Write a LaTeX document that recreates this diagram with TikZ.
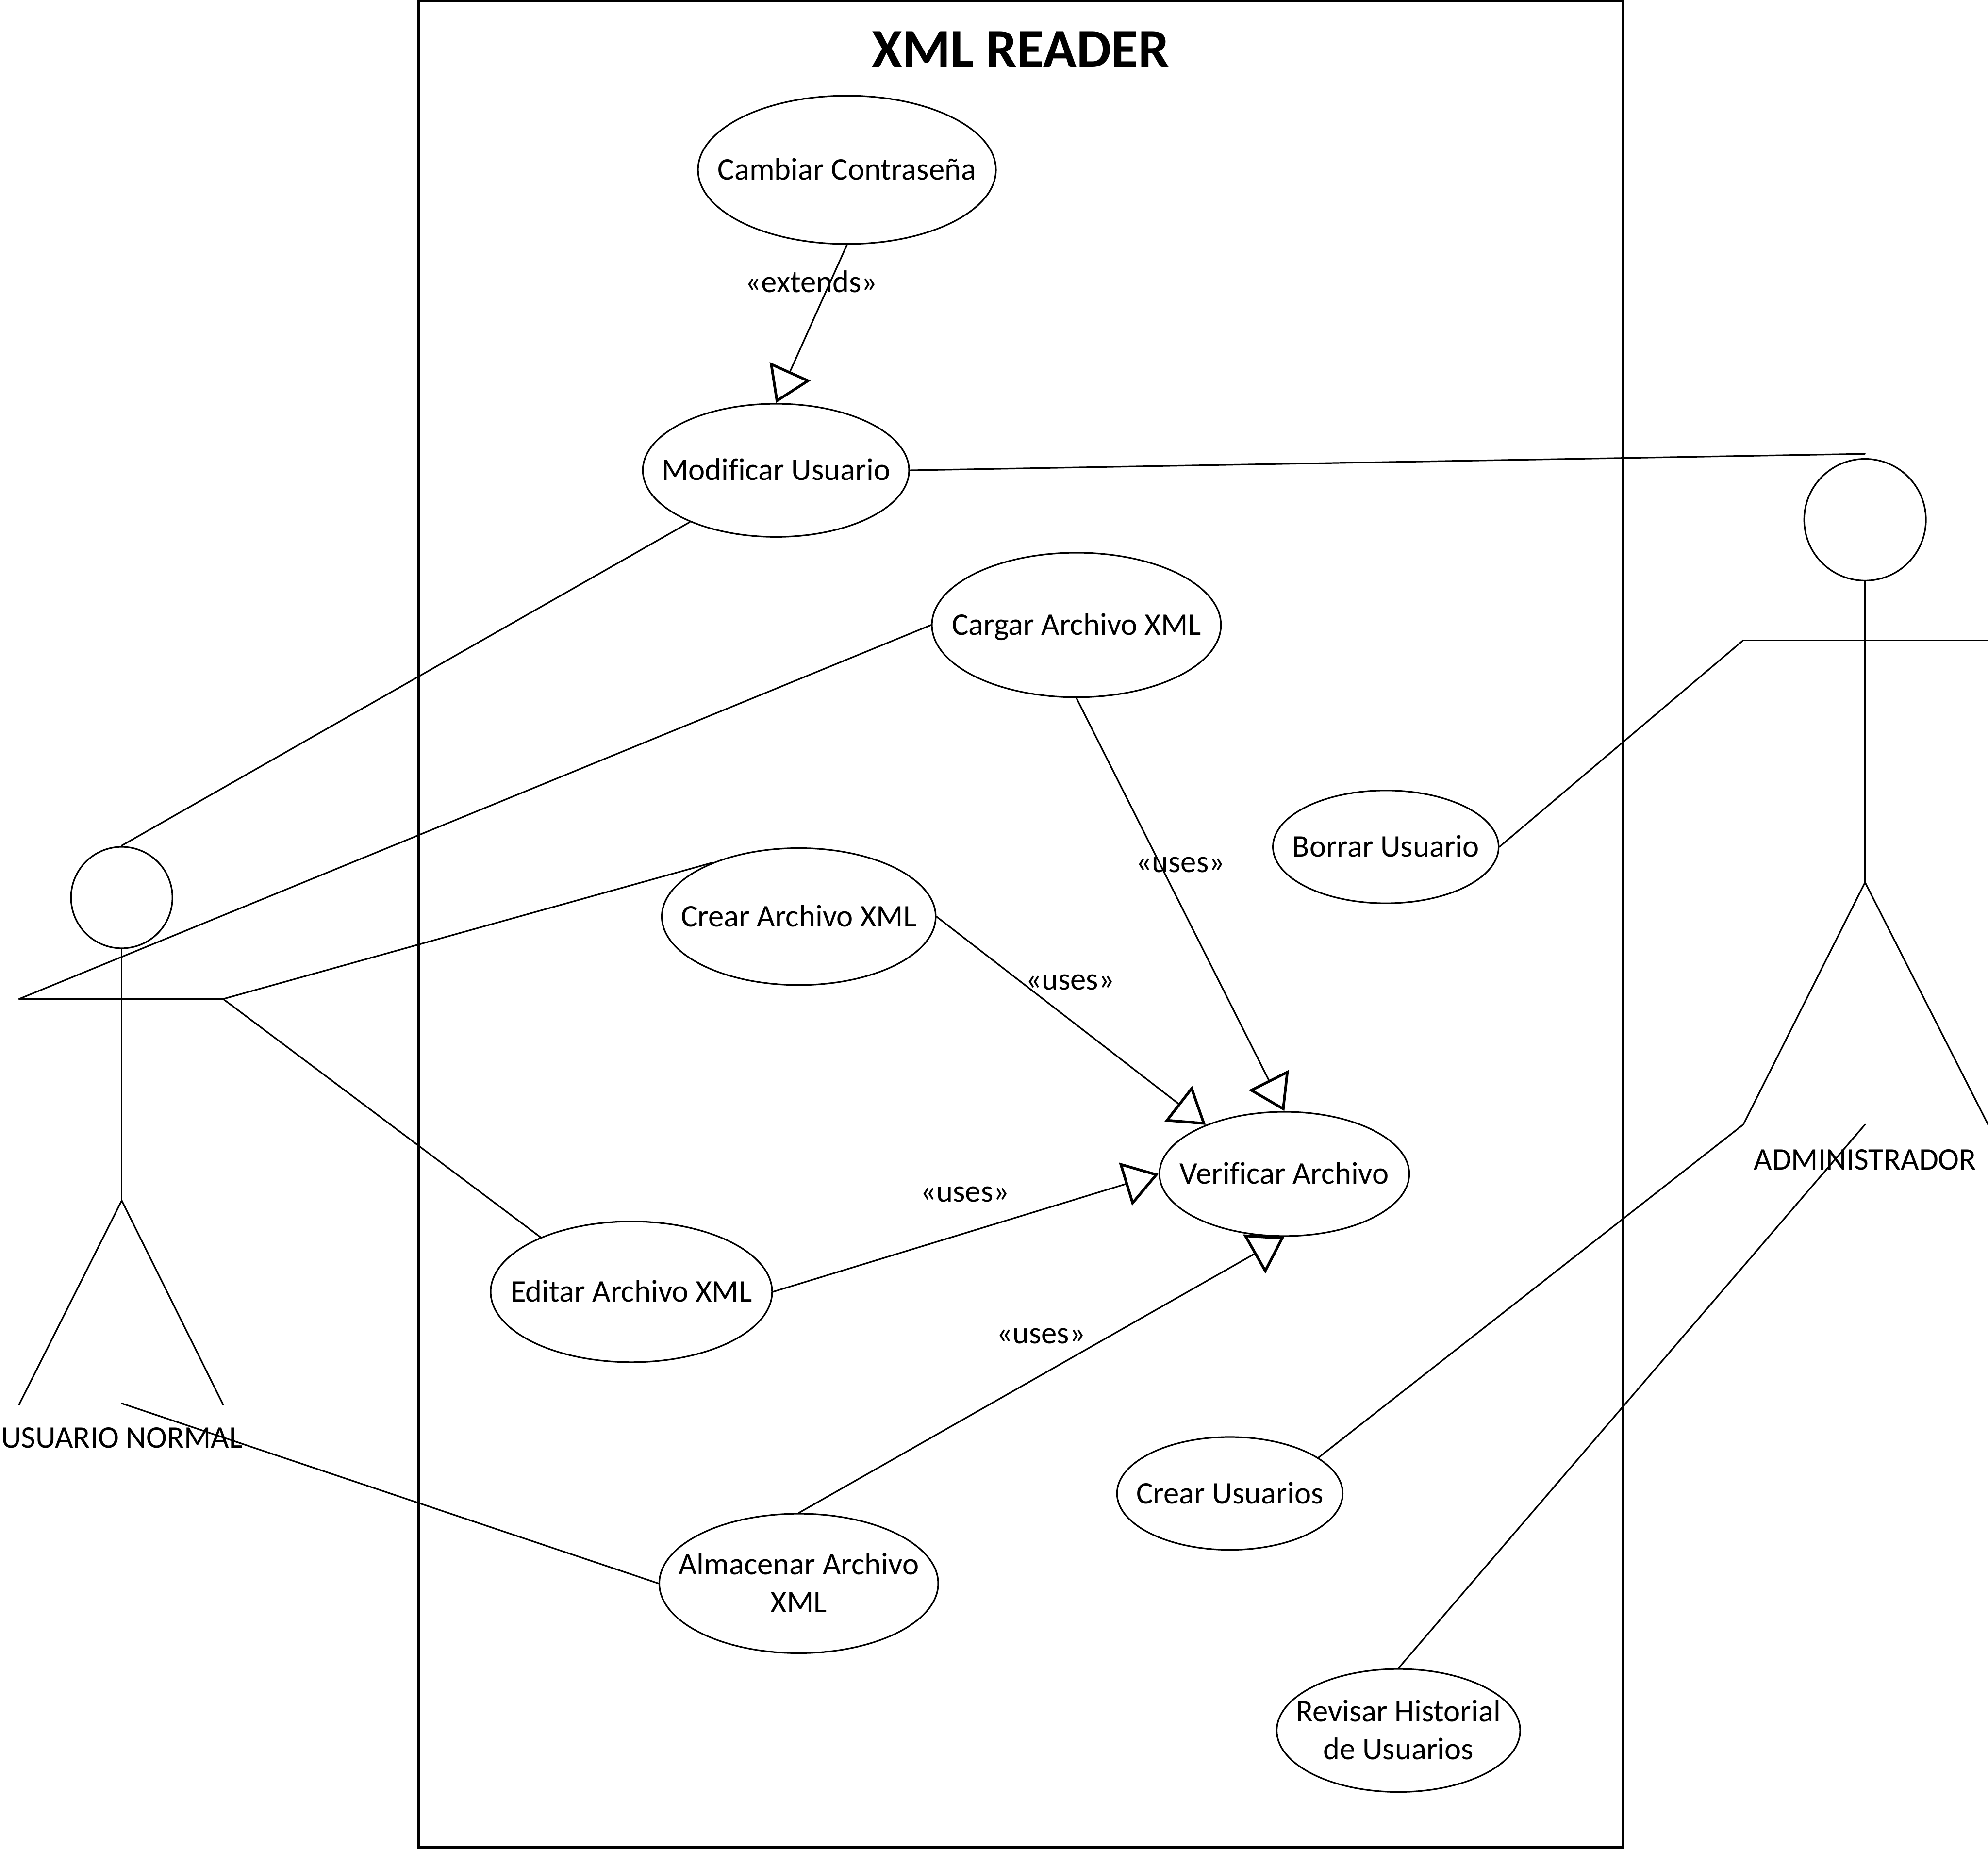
\documentclass[tikz,border=0pt]{standalone}
\usepackage{fontspec}
\setmainfont[Ligatures=NoCommon]{Carlito}
\usetikzlibrary{shapes.geometric,arrows.meta}
\newcommand\uctext[1]{\hbox to 0pt{\hss\raisebox{-1.13pt}[\height][\depth]{\begin{tabular}{@{}c@{}}#1\end{tabular}}\hss}}
\tikzset{
  usecase/.style={draw=black,ellipse,line width=0.7pt,inner sep=0pt,font=\fontsize{14.1}{17}\selectfont},
  lbl/.style={inner sep=0pt,font=\fontsize{14.1}{17}\selectfont},
  conn/.style={draw=black,line width=0.7pt,line cap=round},
  gen/.style={conn,-{Triangle[open,length=15.6pt,width=20pt,line width=1.2pt]}},
  head/.style={draw=black,circle,line width=0.7pt,inner sep=0pt},
}
\begin{document}
\begin{tikzpicture}[x=0.02cm,y=-0.02cm]
\useasboundingbox (0,0) rectangle (1568,1459);
\node[draw=black,line width=1.2pt,minimum width=950*0.02cm,minimum height=1456*0.02cm,inner sep=0pt] (frame) at (805,729) {};
\node[inner sep=0pt,font=\fontsize{24.7}{28}\selectfont\bfseries] (title) at (805,39) {XML READER};

\node[usecase,minimum width=235*0.02cm,minimum height=117*0.02cm] (cambiar) at (668,134) {\uctext{Cambiar Contraseña}};
\node[usecase,minimum width=210*0.02cm,minimum height=105*0.02cm] (modificar) at (612,371) {\uctext{Modificar Usuario}};
\node[usecase,minimum width=228*0.02cm,minimum height=114*0.02cm] (cargar) at (849,493) {\uctext{Cargar Archivo XML}};
\node[usecase,minimum width=178*0.02cm,minimum height=89*0.02cm] (borrar) at (1093,668) {\uctext{Borrar Usuario}};
\node[usecase,minimum width=216*0.02cm,minimum height=108*0.02cm] (crear) at (630,723) {\uctext{Crear Archivo XML}};
\node[usecase,minimum width=197*0.02cm,minimum height=98*0.02cm] (verificar) at (1013,926) {\uctext{Verificar Archivo}};
\node[usecase,minimum width=222*0.02cm,minimum height=111*0.02cm] (editar) at (498,1019) {\uctext{Editar Archivo XML}};
\node[usecase,minimum width=220*0.02cm,minimum height=110*0.02cm] (almacenar) at (630,1249) {\uctext{Almacenar Archivo\\XML}};
\node[usecase,minimum width=178*0.02cm,minimum height=89*0.02cm] (crearu) at (970,1178) {\uctext{Crear Usuarios}};
\node[usecase,minimum width=192*0.02cm,minimum height=97*0.02cm] (revisar) at (1103,1365) {\uctext{Revisar Historial\\de Usuarios}};

% left actor
\node[head,minimum size=80*0.02cm] (lhead) at (96,708) {};
\coordinate (ltop) at (96,667);
\coordinate (lhip) at (96,947);
\coordinate (lhl) at (15,788);
\coordinate (lhr) at (176,788);
\coordinate (lfl) at (15,1108);
\coordinate (lfr) at (176,1108);
\coordinate (lbase) at (96,1107);
\draw[conn] (lhead.south) -- (lhip);
\draw[conn] (lhl) -- (lhr);
\draw[conn] (lfl) -- (lhip) -- (lfr);
\node[lbl] (lname) at (96,1134) {USUARIO NORMAL};

% right actor
\node[head,minimum size=96*0.02cm] (rhead) at (1471,410) {};
\coordinate (rtop) at (1471,358);
\coordinate (rhip) at (1471,696);
\coordinate (rhl) at (1375,505);
\coordinate (rhr) at (1568,505);
\coordinate (rfl) at (1375,887);
\coordinate (rfr) at (1568,887);
\coordinate (rbase) at (1471,887);
\draw[conn] (rhead.south) -- (rhip);
\draw[conn] (rhl) -- (rhr);
\draw[conn] (rfl) -- (rhip) -- (rfr);
\node[lbl] (rname) at (1471,915) {ADMINISTRADOR};

% associations
\draw[conn] (modificar.211) -- (ltop);
\draw[conn] (cargar.west) -- (lhl);
\draw[conn] (lhr) -- (crear.148);
\draw[conn] (lhr) -- (editar.149);
\draw[conn] (lbase) -- (almacenar.west);
\draw[conn] (modificar.east) -- (rtop);
\draw[conn] (borrar.east) -- (rhl);
\draw[conn] (crearu.22) -- (rfl);
\draw[conn] (revisar.north) -- (rbase);

% generalisations
\draw[gen] (cambiar.south) -- (modificar.north);
\draw[gen] (cargar.south) -- (verificar.north);
\draw[gen] (crear.east) -- (verificar.148);
\draw[gen] (editar.east) -- (verificar.west);
\draw[gen] (almacenar.north) -- (verificar.south);

\node[lbl] (l1) at (640,222) {«extends»};
\node[lbl] (l2) at (931,682) {«uses»};
\node[lbl] (l3) at (844,775) {«uses»};
\node[lbl] (l4) at (761,942) {«uses»};
\node[lbl] (l5) at (821,1054) {«uses»};
\end{tikzpicture}
\end{document}
